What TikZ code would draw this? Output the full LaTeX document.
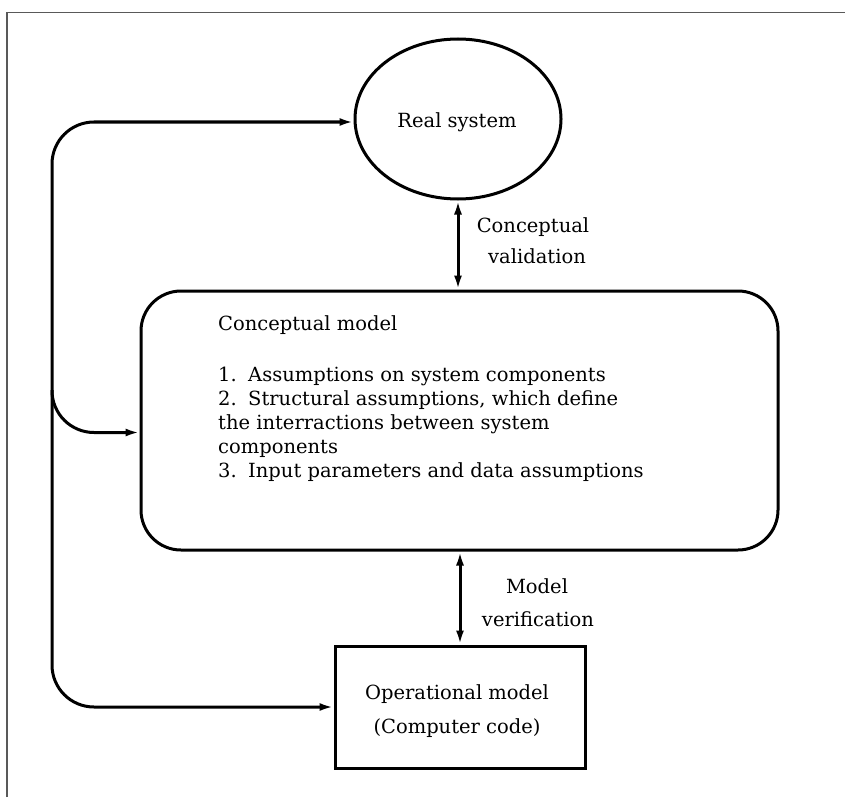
\documentclass[tikz,border=0pt]{standalone}
\usepackage{fontspec}
\setmainfont{DejaVu Serif}
\usetikzlibrary{arrows.meta,shapes.geometric}
\begin{document}
\begin{tikzpicture}[x=1pt,y=-1pt,
  >={Latex[length=14pt,width=8pt]},
  line/.style={line width=3pt},
  shapeline/.style={draw, line width=3pt, inner sep=0pt},
  txt/.style={font=\fontsize{19.5}{22}\selectfont, inner sep=0pt, text=black}]
\useasboundingbox (0,0) rectangle (845,797);
\fill[white] (0,0) rectangle (845,797);
% frame
\draw[black!65, line width=1.6pt] (7,797) -- (7,12.5) -- (845,12.5);
% shapes
\node[shapeline, ellipse, minimum width=206pt, minimum height=160pt] (rs) at (458,119) {};
\node[shapeline, rounded corners=40pt, minimum width=637pt, minimum height=259pt] (cm) at (459.5,420.5) {};
\node[shapeline, minimum width=250pt, minimum height=122pt] (op) at (460,707) {};
% texts
\node[txt, anchor=base] (rst) at (457,128) {Real system};
\node[txt, anchor=base] (cv1) at (533,232) {Conceptual};
\node[txt, anchor=base] (cv2) at (537,263) {validation};
\node[txt, anchor=base] (mv1) at (537,593) {Model};
\node[txt, anchor=base] (mv2) at (538,626) {verification};
\node[txt, anchor=base] (op1) at (457,699) {Operational model};
\node[txt, anchor=base] (op2) at (457,733) {(Computer code)};
\node[txt, anchor=base west] (c0) at (218,330) {Conceptual model};
\node[txt, anchor=base west] (n1) at (218,381) {1.};
\node[txt, anchor=base west] (i1) at (248,381) {Assumptions on system components};
\node[txt, anchor=base west] (n2) at (218,405) {2.};
\node[txt, anchor=base west] (i2) at (248,405) {Structural assumptions, which define};
\node[txt, anchor=base west] (i2b) at (218,429) {the interractions between system};
\node[txt, anchor=base west] (i2c) at (218,453) {components};
\node[txt, anchor=base west] (n3) at (218,477) {3.};
\node[txt, anchor=base west] (i3) at (248,477) {Input parameters and data assumptions};
% connectors
\draw[line, <->] (rs.south) -- (rs.south |- cm.north);
\draw[line, <->] (op.north |- cm.south) -- (op.north);
\draw[line, <->, rounded corners=42pt] ([yshift=-3pt]rs.west) -| (52,400) |- (op.west);
\draw[line, ->, rounded corners=42pt] (52,390) |- ([yshift=-12pt]cm.west);
\end{tikzpicture}
\end{document}
